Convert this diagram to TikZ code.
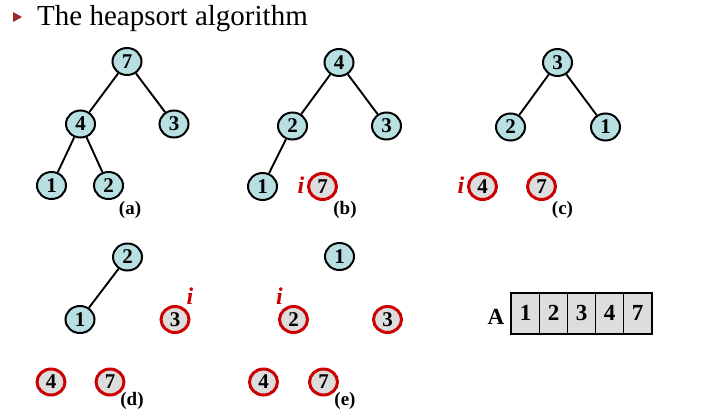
\documentclass[tikz,border=0pt]{standalone}
\usepackage{fontspec}
\setmainfont{Liberation Serif}
\usetikzlibrary{shapes.geometric}
\definecolor{heapfill}{RGB}{184,224,226}
\definecolor{outfill}{RGB}{221,221,221}
\definecolor{outred}{RGB}{204,0,0}
\definecolor{bulletred}{RGB}{150,40,40}
\begin{document}
\begin{tikzpicture}[x=1pt,y=-1pt,
  hnode/.style={ellipse,draw=black,line width=2pt,fill=heapfill,minimum width=29pt,minimum height=27pt,inner sep=0pt,font=\fontsize{21}{21}\selectfont\bfseries},
  onode/.style={ellipse,draw=outred,line width=3pt,fill=outfill,minimum width=28pt,minimum height=26pt,inner sep=0pt,font=\fontsize{21}{21}\selectfont\bfseries},
  edge/.style={line width=1.9pt},
  sublabel/.style={font=\fontsize{19}{19}\selectfont\bfseries,inner sep=0pt},
  ilabel/.style={text=outred,font=\fontsize{24}{24}\selectfont\bfseries\itshape,inner sep=0pt},
  cell/.style={draw=black,line width=0.7pt,fill=outfill,minimum width=28pt,minimum height=40pt,inner sep=0pt,font=\fontsize{23}{23}\selectfont\bfseries}]
\useasboundingbox (0,0) rectangle (703,415);
% title
\fill[bulletred] (13,12) -- (22,17) -- (13,22) -- cycle;
\node[anchor=base west,inner sep=0pt,font=\fontsize{29}{29}\selectfont] (title) at (37,25) {The heapsort algorithm};
% (a)
\node[hnode] (a7) at (127,61.5) {7};
\node[hnode] (a4) at (80.5,124) {4};
\node[hnode] (a3) at (174,124) {3};
\node[hnode] (a1) at (51.5,185.5) {1};
\node[hnode] (a2) at (108.5,185.5) {2};
\draw[edge] (a7) -- (a4);
\draw[edge] (a7) -- (a3);
\draw[edge] (a4) -- (a1);
\draw[edge] (a4) -- (a2);
\node[sublabel] (la) at (130,210) {(a)};
% (b)
\node[hnode] (b4) at (339,62.5) {4};
\node[hnode] (b2) at (292.5,126) {2};
\node[hnode] (b3) at (386.5,126) {3};
\node[hnode] (b1) at (262.5,186.5) {1};
\node[onode] (b7) at (322.5,186.5) {7};
\draw[edge] (b4) -- (b2);
\draw[edge] (b4) -- (b3);
\draw[edge] (b2) -- (b1);
\node[ilabel] (bi) at (301,185) {i};
\node[sublabel] (lb) at (345,210) {(b)};
% (c)
\node[hnode] (c3) at (557.5,62.5) {3};
\node[hnode] (c2) at (510.5,127) {2};
\node[hnode] (c1) at (605.5,127) {1};
\node[onode] (c4) at (482.5,186.5) {4};
\node[onode] (c7) at (541.5,186.5) {7};
\draw[edge] (c3) -- (c2);
\draw[edge] (c3) -- (c1);
\node[ilabel] (ci) at (461,185) {i};
\node[sublabel] (lc) at (562.5,210) {(c)};
% (d)
\node[hnode] (d2) at (127.5,257) {2};
\node[hnode] (d1) at (80,319.5) {1};
\node[onode] (d3) at (175,319.5) {3};
\node[onode] (d4) at (51,382) {4};
\node[onode] (d7) at (110,382) {7};
\draw[edge] (d2) -- (d1);
\node[ilabel] (di) at (190,296) {i};
\node[sublabel] (ld) at (132,401) {(d)};
% (e)
\node[hnode] (e1) at (339.5,256.5) {1};
\node[onode] (e2) at (293.5,319.5) {2};
\node[onode] (e3) at (387.5,319.5) {3};
\node[onode] (e4) at (263.5,382) {4};
\node[onode] (e7) at (323.5,382) {7};
\node[ilabel] (ei) at (279.5,296) {i};
\node[sublabel] (le) at (345,401) {(e)};
% array
\node[font=\fontsize{23}{23}\selectfont\bfseries,inner sep=0pt] (arrA) at (496,316.5) {A};
\node[cell] (x1) at (525.7,313.3) {1};
\node[cell] (x2) at (553.7,313.3) {2};
\node[cell] (x3) at (581.7,313.3) {3};
\node[cell] (x4) at (609.7,313.3) {4};
\node[cell] (x5) at (637.7,313.3) {7};
\draw[line width=2pt] (x1.north west) rectangle (x5.south east);
\end{tikzpicture}
\end{document}
